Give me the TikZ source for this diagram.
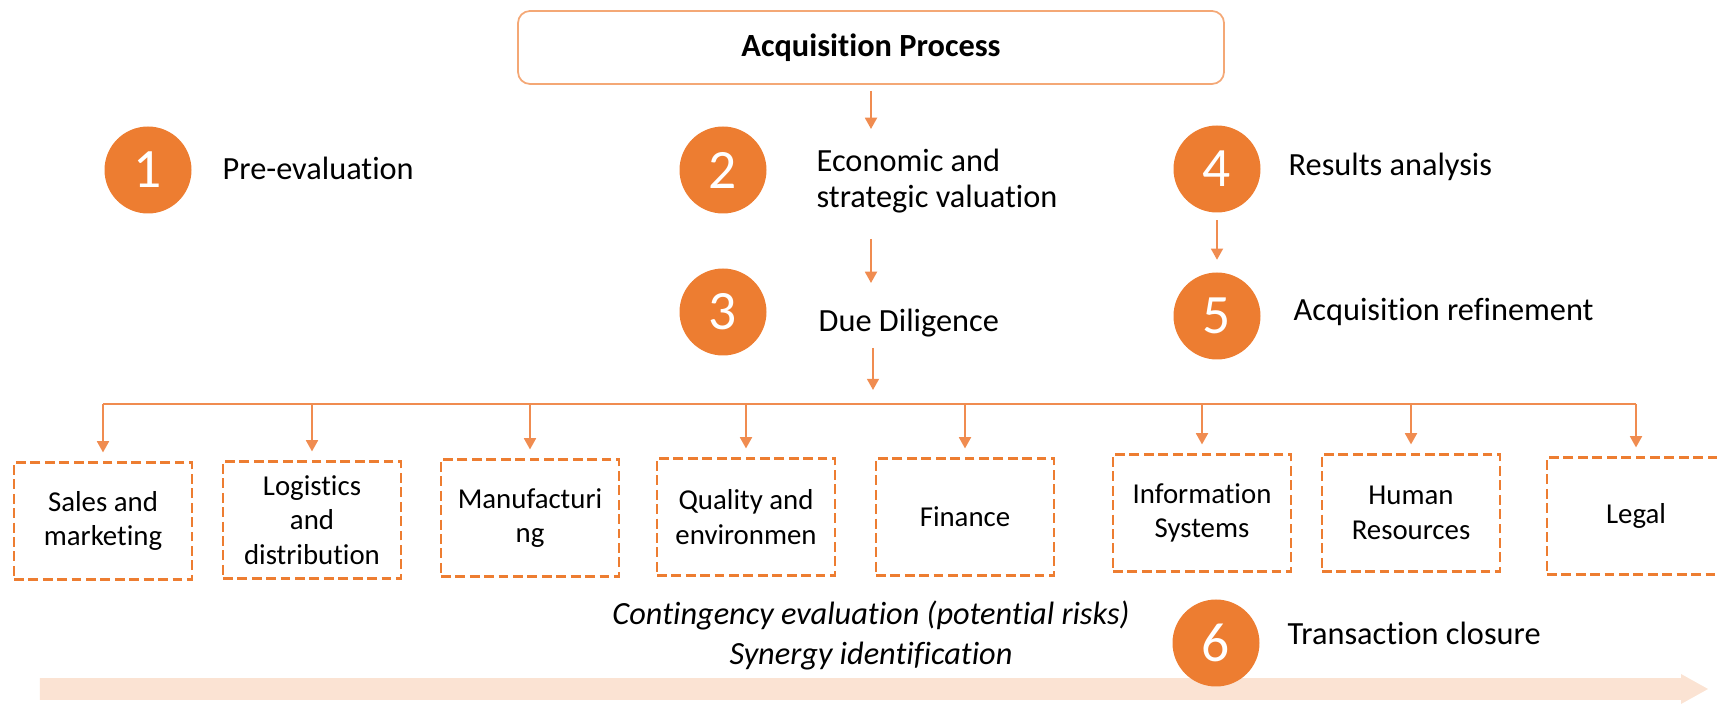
\documentclass[tikz,border=0pt]{standalone}
\usepackage{fontspec}
\setmainfont[Ligatures=NoCommon]{Carlito}
\usetikzlibrary{arrows.meta}
\definecolor{accorange}{RGB}{237,125,49}
\definecolor{lineorange}{RGB}{240,140,80}
\definecolor{titleline}{RGB}{244,168,118}
\definecolor{timeline}{RGB}{251,227,211}

\begin{document}
\begin{tikzpicture}[
  stepnum/.style={circle, fill=accorange, minimum size=0.87cm, inner sep=0pt, text=white, font=\fontsize{15.8}{18}\selectfont},
  steplabel/.style={anchor=base west, inner sep=0pt, align=left, font=\fontsize{9.2}{10.5}\selectfont},
  area/.style={draw=accorange, line width=0.6pt, dash pattern=on 2.8pt off 1.3pt, minimum width=1.78cm, minimum height=1.17cm, align=center, font=\fontsize{8.2}{9.9}\selectfont},
  conn/.style={draw=lineorange, line width=0.55pt},
  arr/.style={conn, -{Triangle[width=3.4pt,length=3.2pt]}}
]
\useasboundingbox (0,0) rectangle (17.17,7.07);

\fill[timeline] (0.40,0.07) -- (16.81,0.07) -- (16.81,0.03) -- (17.08,0.18) -- (16.81,0.33) -- (16.81,0.29) -- (0.40,0.29) -- cycle; %time arrow

\node[draw=titleline, line width=0.5pt, rounded corners=0.12cm, minimum width=7.06cm, minimum height=0.73cm, font=\fontsize{9.2}{11}\selectfont\bfseries] (process) at (8.71,6.595) {Acquisition Process};

% steps
\node[stepnum] (step1) at (1.48,5.37) {1};
\node[stepnum] (step2) at (7.23,5.37) {2};
\node[stepnum] (step3) at (7.23,3.95) {3};
\node[stepnum] (step4) at (12.17,5.38) {4};
\node[stepnum] (step5) at (12.17,3.91) {5};
\node[stepnum] (step6) at (12.16,0.64) {6};

\node[steplabel] (preeval) at (2.22,5.27) {Pre-evaluation};
\node[steplabel] (econ) at (8.16,4.99) {Economic and\\strategic valuation}; %base is last line
\node[steplabel] (due) at (8.18,3.75) {Due Diligence};
\node[steplabel] (results) at (12.88,5.31) {Results analysis};
\node[steplabel] (refine) at (12.93,3.86) {Acquisition refinement};
\node[steplabel] (closure) at (12.87,0.62) {Transaction closure};

\node[align=center, font=\fontsize{9.2}{11.4}\selectfont\itshape] (risks) at (8.71,0.72) {Contingency evaluation (potential risks)\\Synergy identification};

% due diligence areas
\node[area] (sales) at (1.03,1.86) {Sales and\\marketing};
\node[area] (logistics) at (3.12,1.87) {Logistics\\and\\distribution};
\node[area] (manuf) at (5.30,1.89) {Manufacturi\\ng};
\node[area] (quality) at (7.46,1.90) {Quality and\\environmen};
\node[area] (finance) at (9.65,1.90) {Finance};
\node[area] (infosys) at (12.02,1.94) {Information\\Systems};
\node[area] (hr) at (14.11,1.94) {Human\\Resources};
\node[area] (legal) at (16.36,1.91) {Legal};

\coordinate (in2) at (8.71,5.78);
\coordinate (out2) at (8.71,4.68);
\coordinate (in3) at (8.71,4.24);
\coordinate (out3) at (8.73,3.59);
\coordinate (bar) at (8.73,3.03);

\draw[arr, shorten <=0.06cm] (process.south) -- (in2);
\draw[arr] (out2) -- (in3);
\draw[arr, shorten >=0.14cm] (out3) -- (bar);
\draw[arr, shorten <=0.07cm, shorten >=0.12cm] (step4) -- (step5);

\draw[conn] (sales.north |- bar) -- (legal.north |- bar); %horizontal line
\foreach \b in {sales,logistics,manuf,quality,finance,infosys,hr,legal}
  \draw[arr, shorten >=0.09cm] (\b.north |- bar) -- (\b.north);

\end{tikzpicture}
\end{document}
